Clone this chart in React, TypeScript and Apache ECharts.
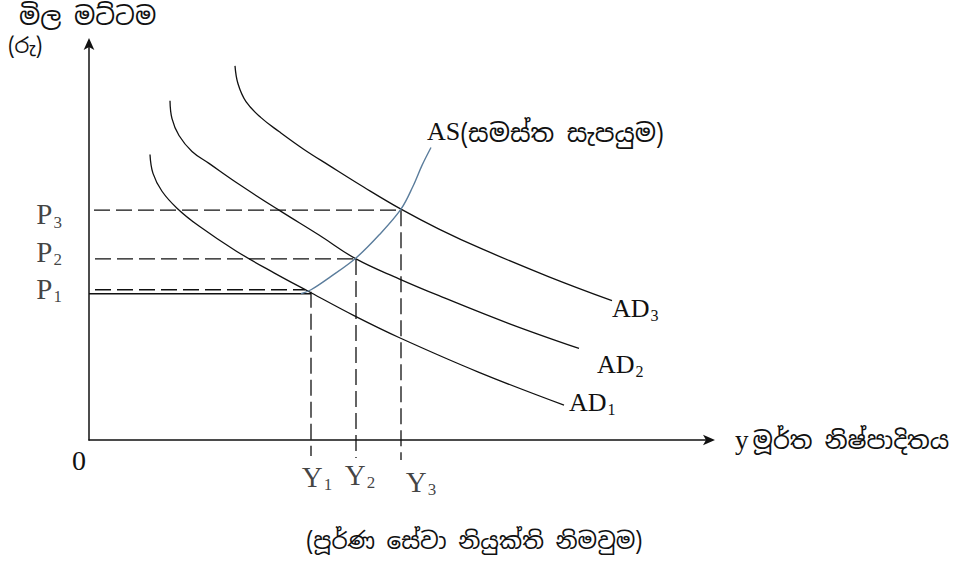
import React, { useEffect, useRef } from "react";
import * as echarts from "echarts";

const ad1Points: number[][] = [[6.1, 28.7], [6.4, 26.8], [7.3, 25.0], [8.8, 23.3], [11.0, 21.5], [14.7, 19.0], [18.5, 16.8], [22.2, 14.8], [26.5, 12.5], [31.0, 10.3], [39.0, 6.8], [47.5, 3.5]];
const ad2Points: number[][] = [[8.1, 34.1], [8.3, 32.3], [9.0, 30.6], [10.3, 29.0], [12.0, 27.8], [15.0, 25.7], [19.0, 23.1], [23.0, 20.6], [26.7, 18.2], [31.0, 16.2], [35.0, 14.5], [42.0, 11.7], [49.0, 9.2]];
const ad3Points: number[][] = [[14.6, 37.6], [14.9, 35.8], [15.7, 34.0], [17.2, 32.4], [19.0, 31.0], [21.5, 29.2], [24.0, 27.6], [27.5, 25.4], [31.2, 23.2], [35.0, 21.2], [39.3, 19.2], [46.0, 16.4], [52.3, 14.0]];
const asPoints: number[][] = [[21.2, 14.7], [22.2, 15.1], [24.0, 16.3], [26.7, 18.3], [29.0, 20.6], [31.2, 23.2], [32.4, 25.5], [33.3, 27.6], [34.2, 29.4]];

// Equilibrium levels
const priceLevels = [14.9, 18.2, 23.1]; // P1, P2, P3
const outputLevels = [22.2, 26.7, 31.2]; // Y1, Y2, Y3
const priceTickNames = ["1", "2", "3"];
const outputTickNames = ["1", "2", "3"];
const p1Pair = [14.7, 15.1]; // solid and dashed lines drawn at P1
const dashStart = 0.6;
const belowAxis = -1.6;
const xMax = 62.2;
const yMax = 40;

const serif = '"Liberation Serif", "DejaVu Serif", serif';
const sinhala = '"Noto Sans Sinhala", "Noto Serif Sinhala", "Iskoola Pota", "Liberation Serif", serif';

const yTitle = "මිල මට්ටම";
const yTitle2 = "(රු)";
const xTitle = "මූර්ත නිෂ්පාදිතය";
const asTitle = "(සමස්ත සැපයුම)";
const bottomNote = "(පූර්ණ සේවා නියුක්ති නිමවුම)";

export default function App() {
  const ref = useRef<HTMLDivElement>(null);
  useEffect(() => {
    if (!ref.current) return;
    const chart = echarts.init(ref.current, undefined, { renderer: "svg" });
    const black = "#111";
    const dash = [16, 6];
    const subRich = {
      m: { fontSize: 29, fontFamily: serif, color: black },
      s: { fontSize: 17, fontFamily: serif, color: black, padding: [16, 0, 0, 1] },
      a: { fontSize: 26, fontFamily: serif, color: black },
      t: { fontSize: 16, fontFamily: serif, color: black, padding: [14, 0, 0, 1] },
      sn: { fontSize: 25, fontFamily: sinhala, color: black, padding: [4, 0, 0, 0] },
    };

    const lastLabel = (pts: number[][], label: any) =>
      pts.map((p, i) => (i === pts.length - 1 ? { value: p, label: { show: true, ...label } } : { value: p }));

    const adSeries = (pts: number[][], sub: string, offset: number[]) => ({
      type: "line",
      data: lastLabel(pts, {
        position: "right",
        distance: 0,
        offset,
        formatter: `{a|AD}{t|${sub}}`,
        rich: subRich,
      }),
      smooth: 0.4,
      symbolSize: 0,
      showSymbol: true,
      lineStyle: { color: black, width: 1.3 },
      itemStyle: { color: black },
      z: 3,
    });

    const refLine = (data: number[][], solid = false) => ({
      type: "line",
      data,
      symbol: "none",
      clip: false,
      lineStyle: { color: black, width: 1.3, type: solid ? "solid" : dash },
      z: 2,
    });

    const series: any[] = [
      adSeries(ad1Points, "1", [5, -3]),
      adSeries(ad2Points, "2", [18, 16]),
      adSeries(ad3Points, "3", [0, 8]),
      {
        type: "line",
        data: lastLabel(asPoints, {
          position: "right",
          distance: 0,
          offset: [-4, -16],
          formatter: `{a|AS}{sn|${asTitle}}`,
          rich: subRich,
        }),
        smooth: 0.35,
        symbolSize: 0,
        showSymbol: true,
        lineStyle: { color: "#5b7d9c", width: 1.4 },
        itemStyle: { color: "#5b7d9c" },
        z: 4,
      },
      // P1: solid from axis plus dashed
      refLine([[0, p1Pair[0]], [outputLevels[0], p1Pair[0]]], true),
      refLine([[dashStart, p1Pair[1]], [outputLevels[0] - 0.6, p1Pair[1]]]),
      refLine([[dashStart, priceLevels[1]], [outputLevels[1], priceLevels[1]]]),
      refLine([[dashStart - 0.1, priceLevels[2]], [outputLevels[2], priceLevels[2]]]),
      // vertical dashed
      refLine([[outputLevels[0], priceLevels[0]], [outputLevels[0], belowAxis]]),
      refLine([[outputLevels[1], priceLevels[1]], [outputLevels[1], belowAxis - 0.2]]),
      refLine([[outputLevels[2], priceLevels[2]], [outputLevels[2], belowAxis - 0.4]]),
      // price tick labels
      {
        type: "scatter",
        symbolSize: 0,
        silent: true,
        data: priceLevels.map((p, i) => ({
          value: [0, p],
          label: { offset: [[0, -3], [0, -7], [0, 4]][i] },
        })),
        label: {
          show: true,
          position: "left",
          distance: 27,
          formatter: (pr: any) => `{m|P}{s|${priceTickNames[pr.dataIndex]}}`,
          rich: subRich,
        },
        clip: false,
      },
      // output tick labels
      {
        type: "scatter",
        symbolSize: 0,
        silent: true,
        data: outputLevels.map((y, i) => ({
          value: [y, 0],
          label: { offset: [[6, -2], [4, -4], [20, 3]][i] },
        })),
        label: {
          show: true,
          position: "bottom",
          distance: 22,
          formatter: (pr: any) => `{m|Y}{s|${outputTickNames[pr.dataIndex]}}`,
          rich: subRich,
        },
        clip: false,
      },
    ];

    const axisLine = {
      show: true,
      symbol: ["none", "arrow"],
      symbolSize: [8, 12],
      symbolOffset: [0, 4],
      lineStyle: { color: black, width: 1.5 },
    };

    chart.setOption({
      animation: false,
      backgroundColor: "#ffffff",
      grid: { left: 89, right: 247, top: 42, bottom: 125, containLabel: false },
      xAxis: {
        type: "value",
        min: 0,
        max: xMax,
        axisLine,
        axisTick: { show: false },
        axisLabel: { show: false },
        splitLine: { show: false },
        name: `{y|y}{sn|${xTitle}}`,
        nameLocation: "end",
        nameGap: 24,
        nameTextStyle: {
          align: "left",
          verticalAlign: "middle",
          rich: {
            y: { fontSize: 27, fontFamily: serif, color: black },
            sn: { fontSize: 24, fontFamily: sinhala, color: black, padding: [0, 0, 0, 4] },
          },
        },
      },
      yAxis: {
        type: "value",
        min: 0,
        max: yMax,
        axisLine,
        axisTick: { show: false },
        axisLabel: { show: false },
        splitLine: { show: false },
      },
      graphic: [
        { type: "text", left: 19, top: 3, style: { text: yTitle, font: `25px ${sinhala}`, fill: black } },
        { type: "text", left: 8, top: 35, style: { text: yTitle2, font: `21px ${sinhala}`, fill: black } },
        { type: "text", left: 72, top: 446, style: { text: "0", font: `28px ${serif}`, fill: black } },
        { type: "text", left: 306, top: 529, style: { text: bottomNote, font: `23px ${sinhala}`, fill: black } },
      ],
      series,
    });
    return () => chart.dispose();
  }, []);
  return (
    <div
      ref={ref}
      style={{ position: "absolute", left: 0, top: 0, width: 958, height: 565, background: "#fff" }}
    />
  );
}
